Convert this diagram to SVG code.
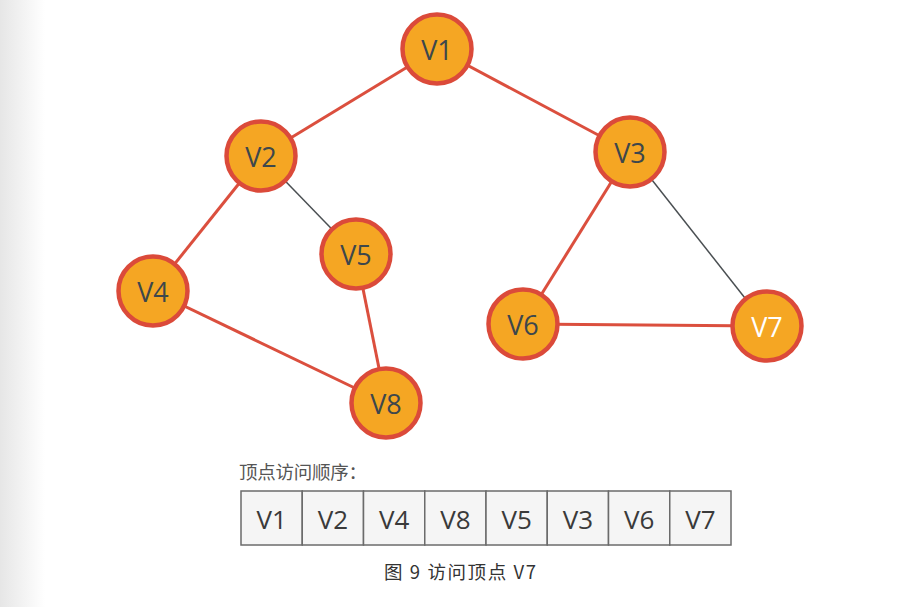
<svg xmlns="http://www.w3.org/2000/svg" width="917" height="607" viewBox="0 0 917 607">
<defs>
<linearGradient id="side" x1="0" y1="0" x2="1" y2="0">
<stop offset="0" stop-color="#e6e6e6"/>
<stop offset="1" stop-color="#ffffff"/>
</linearGradient>
<style>
.node circle{fill:#f5a623;stroke:#db4a3a;stroke-width:4.5}
.node text{font-family:"Open Sans","Noto Sans",sans-serif;font-size:27px;fill:#3d474c;text-anchor:middle;dominant-baseline:central}
.red{stroke:#db4f3e;stroke-width:3;fill:none}
.gray{stroke:#4a4f52;stroke-width:1.5;fill:none}
.cell rect{fill:#f5f5f5;stroke:#6b6b6b;stroke-width:1.5}
.cell text{font-family:"Open Sans","Noto Sans",sans-serif;font-size:26px;fill:#3a3a3a;text-anchor:middle;dominant-baseline:central}
.cap{font-family:"Noto Sans CJK SC","Noto Sans",sans-serif;font-size:18.5px}
</style>
</defs>
<rect width="917" height="607" fill="#ffffff"/>
<rect width="45" height="607" fill="url(#side)"/>
<g id="connectors">
<line class="red" x1="437" y1="49" x2="261" y2="156"/>
<line class="red" x1="437" y1="49" x2="630" y2="152"/>
<line class="red" x1="261" y1="156" x2="153" y2="291"/>
<line class="gray" x1="261" y1="156" x2="356" y2="254"/>
<line class="red" x1="153" y1="291" x2="386" y2="403"/>
<line class="red" x1="356" y1="254" x2="386" y2="403"/>
<line class="red" x1="630" y1="152" x2="523" y2="324"/>
<line class="gray" x1="630" y1="152" x2="767" y2="326"/>
<line class="red" x1="523" y1="324" x2="767" y2="326"/>
</g>
<g id="V1" class="node"><circle cx="437" cy="49" r="34.5"/><text x="437" y="49">V1</text></g>
<g id="V2" class="node"><circle cx="261" cy="156" r="34.5"/><text x="261" y="156">V2</text></g>
<g id="V3" class="node"><circle cx="630" cy="152" r="34.5"/><text x="630" y="152">V3</text></g>
<g id="V4" class="node"><circle cx="153" cy="291" r="34.5"/><text x="153" y="291">V4</text></g>
<g id="V5" class="node"><circle cx="356" cy="254" r="34.5"/><text x="356" y="254">V5</text></g>
<g id="V6" class="node"><circle cx="523" cy="324" r="34.5"/><text x="523" y="324">V6</text></g>
<g id="V7" class="node"><circle cx="767" cy="326" r="34.5"/><text x="767" y="326" style="fill:#ffffff">V7</text></g>
<g id="V8" class="node"><circle cx="386" cy="403" r="34.5"/><text x="386" y="403">V8</text></g>
<text class="cap" x="239" y="479" fill="#555555" textLength="128" lengthAdjust="spacing">顶点访问顺序：</text>
<g id="order" class="cell">
<rect x="241" y="491" width="61.25" height="54"/><text x="271.6" y="519">V1</text>
<rect x="302.25" y="491" width="61.25" height="54"/><text x="332.9" y="519">V2</text>
<rect x="363.5" y="491" width="61.25" height="54"/><text x="394.1" y="519">V4</text>
<rect x="424.75" y="491" width="61.25" height="54"/><text x="455.4" y="519">V8</text>
<rect x="486" y="491" width="61.25" height="54"/><text x="516.6" y="519">V5</text>
<rect x="547.25" y="491" width="61.25" height="54"/><text x="577.9" y="519">V3</text>
<rect x="608.5" y="491" width="61.25" height="54"/><text x="639.1" y="519">V6</text>
<rect x="669.75" y="491" width="61.25" height="54"/><text x="700.4" y="519">V7</text>
</g>
<text class="cap" x="384" y="579" fill="#333333" textLength="152" lengthAdjust="spacing">图 9 访问顶点 V7</text>
</svg>
